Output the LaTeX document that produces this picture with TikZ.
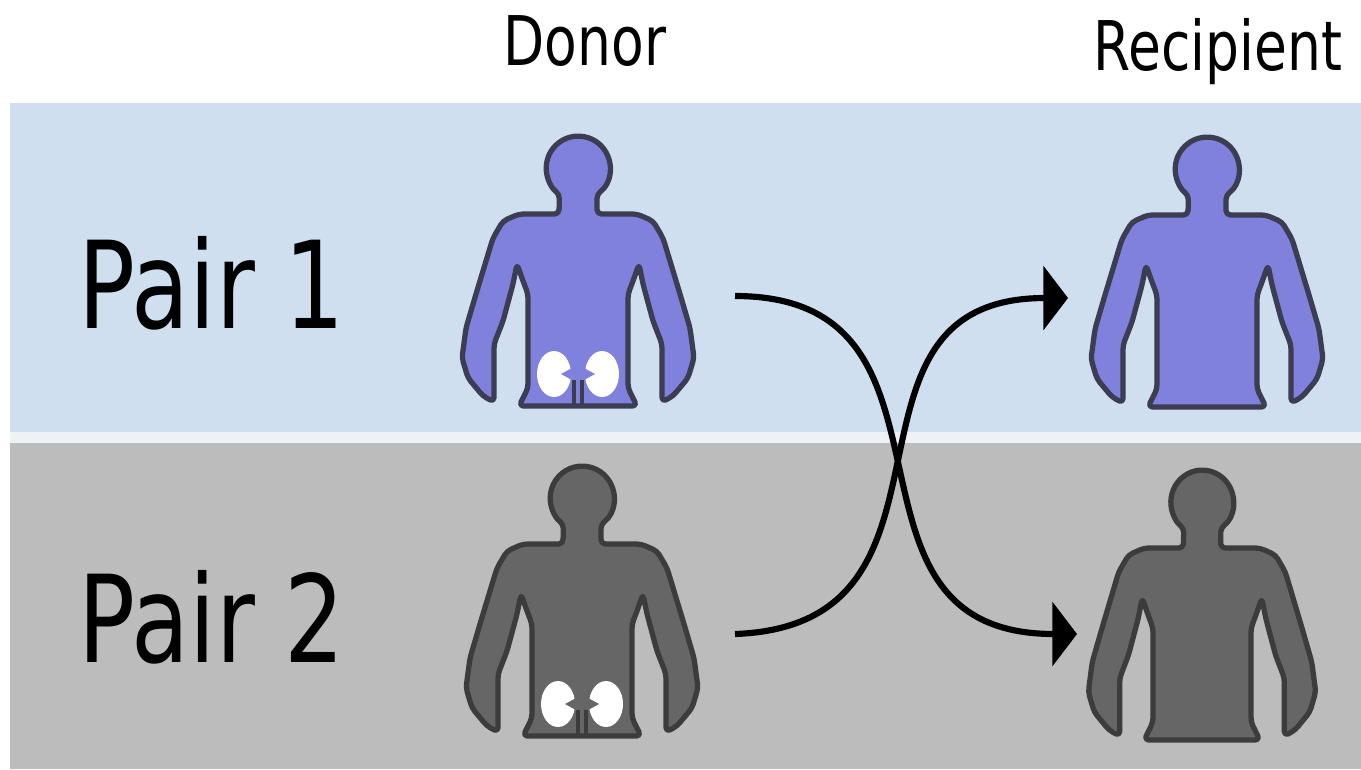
\documentclass[tikz,border=0pt]{standalone}
\usepackage{xcolor}
\usepackage{fontspec}
\setsansfont[FakeStretch=0.78]{DejaVu Sans}
\usepackage{tikz}
\usetikzlibrary{arrows.meta}
\definecolor{bandblue}{HTML}{CFDFEF}
\definecolor{bandgray}{HTML}{BCBCBC}
\definecolor{bandgap}{HTML}{EEF2F6}
\definecolor{bodyblue}{HTML}{8080DD}
\definecolor{bodygray}{HTML}{666666}
\definecolor{lineblue}{HTML}{3C3C52}
\definecolor{linegray}{HTML}{3C3C3C}
\tikzstyle{title} = [anchor=base, font=\sffamily\fontsize{39}{44}\selectfont]
\tikzstyle{pair} = [anchor=base, font=\sffamily\fontsize{69}{76}\selectfont]
\tikzstyle{arrow} = [draw, line width=3.5pt, -{Triangle[length=14pt, width=36pt]}]
\tikzset{
  pics/person/.style 2 args={code={
    \draw[yscale=-1, draw=#2, fill=#1, line width=3pt, rounded corners=2.5pt, line join=round]
      (19,26) arc[start angle=54, end angle=-234, radius=32] -- (-19,46) -- (-59,46) -- (-75,53) -- (-85,70)
      -- (-92,93) -- (-102,126) -- (-112,160) -- (-116,190) -- (-110,210) -- (-95,228) -- (-84,234)
      -- (-84,176) -- (-75,153) -- (-65,116) -- (-61,96) -- (-55,113) -- (-50,126) -- (-50,220) -- (-59,238)
      -- (59,238) -- (50,220) -- (50,126) -- (55,113) -- (61,96) -- (65,116) -- (75,153) -- (84,176)
      -- (84,234) -- (95,228) -- (110,210) -- (116,190) -- (112,160) -- (102,126) -- (92,93) -- (85,70)
      -- (75,53) -- (59,46) -- (19,46) -- cycle;
  }},
  pics/kidneys/.style 2 args={code={
    \begin{scope}[yscale=-1]
    \fill[white] (-24,206) ellipse[x radius=17, y radius=23];
    \fill[white] (24,206) ellipse[x radius=17, y radius=23];
    \fill[#1] (-17,206) -- (-6,200) -- (-6,212) -- cycle;
    \fill[#1] (17,206) -- (6,200) -- (6,212) -- cycle;
    \draw[#2, line width=2pt] (-4,212) -- (-4,238);
    \draw[#2, line width=2pt] (4,212) -- (4,238);
    \end{scope}
  }}
}
\begin{document}
\begin{tikzpicture}[x=0.02cm, y=0.02cm, yscale=-1]
    \useasboundingbox (0,0) rectangle (1361,769);
    \fill[bandgap] (10,432) rectangle (1361,443);
    \fill[bandblue] (10,103) rectangle (1361,432);
    \fill[bandgray] (10,443) rectangle (1361,769);

    \node (donor) [title] at (585,65) {Donor};
    \node (recipient) [title] at (1218,70) {Recipient};
    \node (pairone) [pair] at (212,328) {Pair 1};
    \node (pairtwo) [pair] at (212,662) {Pair 2};

    \pic at (578,168) {person={bodyblue}{lineblue}};
    \pic at (578,168) {kidneys={bodyblue}{lineblue}};
    \pic at (1207,169) {person={bodyblue}{lineblue}};
    \pic at (582,498) {person={bodygray}{linegray}};
    \pic at (582,498) {kidneys={bodygray}{linegray}};
    \pic[xscale=0.98] at (1202,502) {person={bodygray}{linegray}};

    \coordinate (outone) at (735,296);
    \coordinate (outtwo) at (735,634);
    \coordinate (inone) at (1068,298);
    \coordinate (intwo) at (1077,634);

    \draw [arrow] (outone) .. controls (985,296) and (815,634) .. (intwo);
    \draw [arrow] (outtwo) .. controls (985,625) and (815,298) .. (inone);
\end{tikzpicture}
\end{document}
